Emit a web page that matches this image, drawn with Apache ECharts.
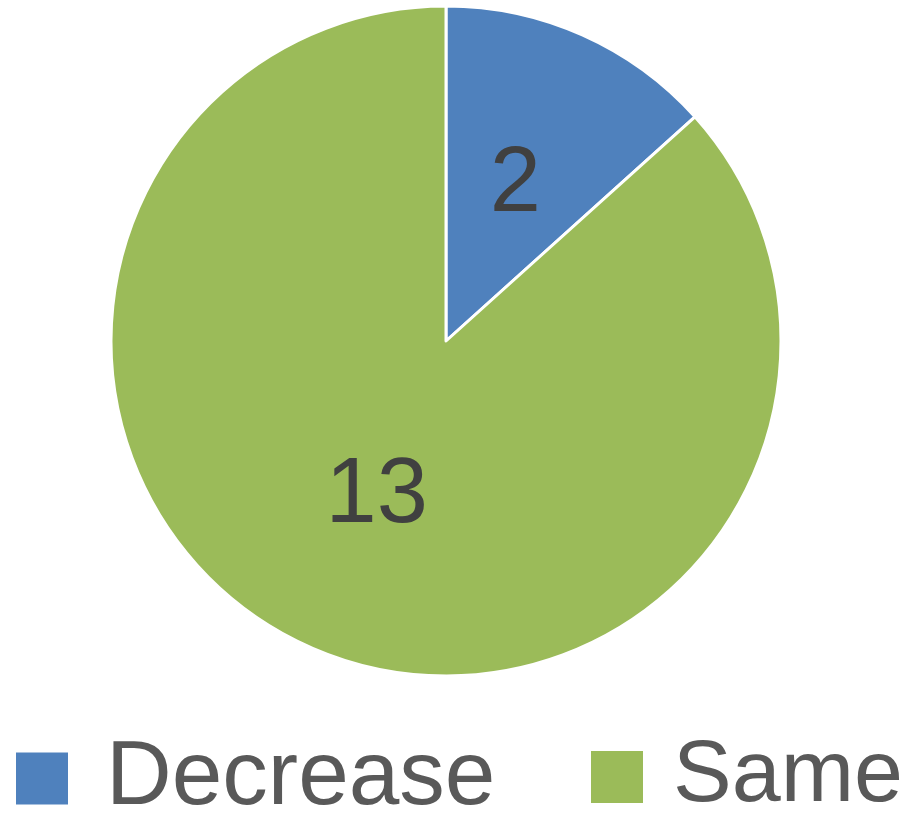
<!DOCTYPE html>
<html><head><meta charset="utf-8">
<script src="https://cdn.jsdelivr.net/npm/echarts@6/dist/echarts.min.js"></script>
<style>html,body{margin:0;padding:0;background:#fff}#c{width:911px;height:816px}</style>
</head><body><div id="c"></div>
<script>
const categories = ["Decrease", "Same"];
const values = [2, 13];
const colors = ["#4F81BD", "#9BBB59"];

const chart = echarts.init(document.getElementById('c'));
const legendBase = {
  orient: 'horizontal', top: 733, padding: 0, itemWidth: 54, itemHeight: 54,
  icon: 'rect',
  selectedMode: false
};
chart.setOption({
  animation: false,
  color: colors,
  legend: [
    Object.assign({}, legendBase, { left: 14, data: [categories[0]],
      textStyle: { fontFamily: 'Liberation Sans', fontSize: 91, color: '#595959', padding: [0,0,0,32] } }),
    Object.assign({}, legendBase, { left: 589, data: [categories[1]],
      textStyle: { fontFamily: 'Liberation Sans', fontSize: 88, color: '#595959', padding: [0,0,0,24] } })
  ],
  series: [{
    type: 'pie',
    center: [446, 341],
    radius: [0, 335],
    startAngle: 90,
    clockwise: true,
    itemStyle: { borderColor: '#fff', borderWidth: 3 },
    label: { show: true, position: 'inside', formatter: '{c}', fontFamily: 'Liberation Sans', fontSize: 92, color: '#404040' },
    labelLine: { show: false },
    emphasis: { disabled: true },
    data: categories.map((n, i) => ({ name: n, value: values[i] }))
  }]
});
</script></body></html>
